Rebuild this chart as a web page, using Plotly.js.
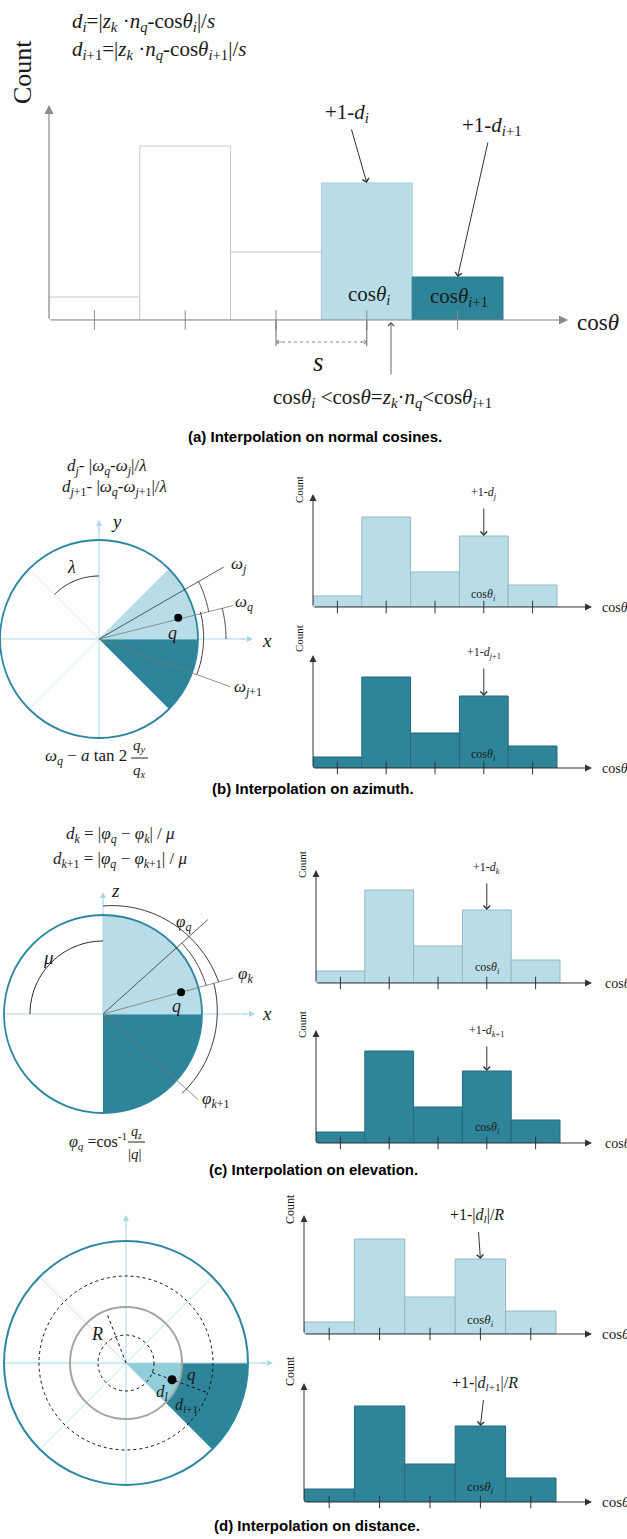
<!DOCTYPE html>
<html>
<head>
<meta charset="utf-8">
<script src="https://cdn.plot.ly/plotly-3.0.1.min.js"></script>
<style>html,body{margin:0;padding:0;background:#fff;}#plot{width:627px;height:1539px;}</style>
</head>
<body>
<div id="plot"></div>
<script>
// ---------------- DATA ----------------
const binCenters = [0.5, 1.5, 2.5, 3.5, 4.5];          // bin positions (in bin widths)
const countsA    = [23, 174, 68, 137, 43];             // (a) main histogram
const countsBTop = [11, 90, 35, 71, 22];               // (b) upper histogram
const countsBBot = [11, 91, 35, 72, 22];               // (b) lower histogram
const countsCTop = [12, 93, 37, 73, 23];               // (c) upper histogram
const countsCBot = [11, 92, 36, 72, 23];               // (c) lower histogram
const countsDTop = [12, 95, 37, 75, 23];               // (d) upper histogram
const countsDBot = [13, 96, 38, 76, 24];               // (d) lower histogram
const targetBinA = 3;      // index of bin receiving +1-d_i
const targetBinA2 = 4;     // index of bin receiving +1-d_{i+1}
const targetBin = 3;       // index of bin receiving the vote in small histograms
// angular data of the diagrams (degrees)
const azSectorLight = [0, 45], azSectorDark = [-45, 0];
const azDividers = [45, 135, 225, 315];
const azOmegaJ = 30, azOmegaQ = 14, azOmegaJ1 = -20;
const elSectorLight = [0, 90], elSectorDark = [-90, 0];
const elPhiQ = 42, elPhiK = 15.5, elPhiK1 = -42;
const distDividers = [45, 135, 225, 315];
const distRadii = [28, 56, 87, 122];   // inner dotted, R circle, outer dotted, outer
const distSector = [-45, 0], distQAngle = -20, distRAngle = 111;

// ---------------- LAYOUT HELPERS ----------------
const W = 627, H = 1539;
const serif = 'Liberation Serif, "Times New Roman", serif';
const sans = 'Liberation Sans, Arial, Helvetica, sans-serif';
const LIGHT = '#b9dde8', DARK = '#2e8499', TEAL = '#2d87a0', AXL = '#a9d8e6', TXT = '#1a1a1a';

const shapes = [], annotations = [], traces = [];
const layout = {
  width: W, height: H, margin: {l: 0, r: 0, t: 0, b: 0},
  paper_bgcolor: '#fff', plot_bgcolor: 'rgba(0,0,0,0)', showlegend: false,
  xaxis: {domain: [0, 1], range: [0, W], visible: false, fixedrange: true},
  yaxis: {domain: [0, 1], range: [H, 0], visible: false, fixedrange: true},
  shapes, annotations
};

function txt(x, y, text, size, opts) {
  annotations.push(Object.assign({xref: 'x', yref: 'y', x, y, text, showarrow: false,
    font: {family: serif, size, color: TXT}, xanchor: 'center', yanchor: 'middle'}, opts || {}));
}
function arrowPx(x, y, ax, ay, color, head, size, width) {
  annotations.push({xref: 'x', yref: 'y', axref: 'x', ayref: 'y', x, y, ax, ay, text: '',
    showarrow: true, arrowhead: head, arrowsize: size, arrowwidth: width, arrowcolor: color});
}
function line(x0, y0, x1, y1, color, width, dash) {
  shapes.push({type: 'line', xref: 'x', yref: 'y', x0, y0, x1, y1,
    line: {color, width, dash: dash || 'solid'}});
}
function pol(cx, cy, r, a) {
  const t = a * Math.PI / 180;
  return [cx + r * Math.cos(t), cy - r * Math.sin(t)];
}
function arcPts(cx, cy, r0, r1, a0, a1) {
  const n = 48, pts = [];
  for (let i = 0; i <= n; i++) {
    const f = i / n;
    pts.push(pol(cx, cy, r0 + (r1 - r0) * f, a0 + (a1 - a0) * f));
  }
  return pts;
}
function arc(cx, cy, r0, r1, a0, a1, color, width, dash) {
  const p = arcPts(cx, cy, r0, r1, a0, a1);
  shapes.push({type: 'path', xref: 'x', yref: 'y',
    path: 'M' + p.map(q => q[0].toFixed(2) + ',' + q[1].toFixed(2)).join('L'),
    line: {color, width, dash: dash || 'solid'}});
}
function sector(cx, cy, rin, rout, a0, a1, fill) {
  let p = arcPts(cx, cy, rout, rout, a0, a1);
  if (rin > 0) p = p.concat(arcPts(cx, cy, rin, rin, a1, a0)); else p.push([cx, cy]);
  shapes.push({type: 'path', xref: 'x', yref: 'y',
    path: 'M' + p.map(q => q[0].toFixed(2) + ',' + q[1].toFixed(2)).join('L') + 'Z',
    fillcolor: fill, line: {width: 0}});
}
function ray(cx, cy, a, r0, r1, color, width, dash) {
  const p0 = pol(cx, cy, r0, a), p1 = pol(cx, cy, r1, a);
  line(p0[0], p0[1], p1[0], p1[1], color, width, dash);
}
function circle(cx, cy, r, color, width, dash) {
  shapes.push({type: 'circle', xref: 'x', yref: 'y', x0: cx - r, x1: cx + r, y0: cy - r, y1: cy + r,
    line: {color, width, dash: dash || 'solid'}});
}

// ---------------- HISTOGRAMS ----------------
let axId = 2;
function histogram(cfg) {
  const id = axId++;
  const xa = 'x' + id, ya = 'y' + id;
  const xmax = (cfg.xEnd - cfg.x0) / cfg.bw, ymax = cfg.base - cfg.top;
  layout['xaxis' + id] = {domain: [cfg.x0 / W, cfg.xEnd / W], range: [0, xmax], visible: false, anchor: ya, fixedrange: true};
  layout['yaxis' + id] = {domain: [(H - cfg.base) / H, (H - cfg.top) / H], range: [0, ymax], visible: false, anchor: xa, fixedrange: true};
  traces.push({type: 'bar', x: binCenters, y: cfg.counts, width: 1, xaxis: xa, yaxis: ya,
    marker: {color: cfg.fills, line: {color: cfg.lines, width: 1}}, hoverinfo: 'skip'});
  traces.push({type: 'scatter', mode: 'markers', x: binCenters, y: binCenters.map(() => 0), xaxis: xa, yaxis: ya,
    cliponaxis: false, hoverinfo: 'skip',
    marker: {symbol: 'line-ns', size: cfg.tick, line: {width: 1, color: cfg.axisColor}}});
  // axes with arrowheads
  annotations.push({xref: xa, yref: ya, axref: xa, ayref: ya, x: xmax, y: 0, ax: 0, ay: 0, text: '',
    showarrow: true, arrowhead: 2, arrowsize: cfg.headSize, arrowwidth: cfg.axisWidth, arrowcolor: cfg.axisColor});
  annotations.push({xref: xa, yref: ya, axref: xa, ayref: ya, x: 0, y: ymax, ax: 0, ay: 0, text: '',
    showarrow: true, arrowhead: 2, arrowsize: cfg.headSize, arrowwidth: cfg.axisWidth, arrowcolor: cfg.axisColor});
  return {xa, ya, cfg};
}
function vote(h, idx, text, size, ax, ay, sstand) {
  annotations.push({xref: h.xa, yref: h.ya, x: binCenters[idx], y: h.cfg.counts[idx], ax, ay,
    text, showarrow: true, arrowhead: 4, arrowsize: 1.3, arrowwidth: 1, arrowcolor: '#333',
    startstandoff: sstand || 0, font: {family: serif, size, color: TXT}});
}

const lightFill = binCenters.map(() => LIGHT), lightLine = binCenters.map(() => '#93b9c4');
const darkFill = binCenters.map(() => DARK), darkLine = binCenters.map(() => '#236b7d');
const smallStyle = {axisColor: '#333', axisWidth: 1, headSize: 1.4, tick: 9};

// (a)
const hA = histogram(Object.assign({x0: 49, xEnd: 568, bw: 90.8, base: 320, top: 105, counts: countsA,
  fills: ['#ffffff', '#ffffff', '#ffffff', LIGHT, DARK],
  lines: ['#c9c9c9', '#c9c9c9', '#c9c9c9', '#a9cdd7', '#2a7a8d']},
  {axisColor: '#8a8a8a', axisWidth: 1.2, headSize: 1.5, tick: 14}));
// (b)
const hBT = histogram(Object.assign({x0: 313, xEnd: 592, bw: 48.8, base: 607, top: 494, counts: countsBTop, fills: lightFill, lines: lightLine}, smallStyle));
const hBB = histogram(Object.assign({x0: 313, xEnd: 592, bw: 48.8, base: 768, top: 655, counts: countsBBot, fills: darkFill, lines: darkLine}, smallStyle));
// (c)
const hCT = histogram(Object.assign({x0: 316, xEnd: 592, bw: 48.8, base: 983, top: 870, counts: countsCTop, fills: lightFill, lines: lightLine}, smallStyle));
const hCB = histogram(Object.assign({x0: 316, xEnd: 592, bw: 48.8, base: 1143, top: 1030, counts: countsCBot, fills: darkFill, lines: darkLine}, smallStyle));
// (d)
const hDT = histogram(Object.assign({x0: 304, xEnd: 592, bw: 50.4, base: 1334, top: 1215, counts: countsDTop, fills: lightFill, lines: lightLine}, smallStyle));
const hDB = histogram(Object.assign({x0: 304, xEnd: 592, bw: 50.4, base: 1502, top: 1383, counts: countsDBot, fills: darkFill, lines: darkLine}, smallStyle));

// ---------------- PANEL (a) TEXT ----------------
txt(70, 22, '<i>d<sub>i</sub></i>=|<i>z<sub>k</sub></i> ·<i>n<sub>q</sub></i>-cos<i>θ<sub>i</sub></i>|/<i>s</i>', 21, {xanchor: 'left'});
txt(70, 50, '<i>d<sub>i</sub></i><sub>+1</sub>=|<i>z<sub>k</sub></i> ·<i>n<sub>q</sub></i>-cos<i>θ<sub>i</sub></i><sub>+1</sub>|/<i>s</i>', 21, {xanchor: 'left'});
txt(22, 72, 'Count', 26, {textangle: -90});
txt(575, 322, 'cos<i>θ</i>', 23, {xanchor: 'left'});
vote(hA, targetBinA, '+1-<i>d<sub>i</sub></i>', 21, -20, -70, 2);
vote(hA, targetBinA2, '+1-<i>d<sub>i</sub></i><sub>+1</sub>', 21, 34, -151, 2);
txt(369, 295, 'cos<i>θ<sub>i</sub></i>', 21);
txt(459, 297, 'cos<i>θ<sub>i</sub></i><sub>+1</sub>', 21);
// bin spacing s
shapes.push({type: 'line', xref: hA.xa, yref: 'y', x0: binCenters[2], x1: binCenters[2], y0: 320, y1: 346, line: {color: '#666', width: 1}});
shapes.push({type: 'line', xref: hA.xa, yref: 'y', x0: binCenters[3], x1: binCenters[3], y0: 320, y1: 346, line: {color: '#666', width: 1}});
shapes.push({type: 'line', xref: hA.xa, yref: 'y', x0: binCenters[2], x1: binCenters[3], y0: 342, y1: 342, line: {color: '#888', width: 1, dash: 'dot'}});
annotations.push({xref: hA.xa, yref: 'y', axref: hA.xa, ayref: 'y', x: binCenters[2], y: 342, ax: binCenters[2] + 0.08, ay: 342, text: '', showarrow: true, arrowhead: 4, arrowsize: 1, arrowwidth: 0.8, arrowcolor: '#888'});
annotations.push({xref: hA.xa, yref: 'y', axref: hA.xa, ayref: 'y', x: binCenters[3], y: 342, ax: binCenters[3] - 0.08, ay: 342, text: '', showarrow: true, arrowhead: 4, arrowsize: 1, arrowwidth: 0.8, arrowcolor: '#888'});
txt(318, 362, '<i>s</i>', 27);
arrowPx(391, 322, 391, 376, '#555', 4, 1.3, 0.9);
txt(382, 398, 'cos<i>θ<sub>i</sub></i> &lt;cos<i>θ</i>=<i>z<sub>k</sub></i>·<i>n<sub>q</sub></i>&lt;cos<i>θ<sub>i</sub></i><sub>+1</sub>', 21);
txt(315, 436, '<b>(a) Interpolation on normal cosines.</b>', 15, {font: {family: sans, size: 15, color: '#000'}});

// ---------------- PANEL (b) ----------------
{
  const cx = 99, cy = 639, R = 99;
  azDividers.forEach(a => ray(cx, cy, a, 0, R, '#d2eaf1', 1));
  sector(cx, cy, 0, R, azSectorLight[0], azSectorLight[1], LIGHT);
  sector(cx, cy, 0, R, azSectorDark[0], azSectorDark[1], DARK);
  line(0, cy, 245, cy, AXL, 1); arrowPx(253, cy, 240, cy, AXL, 2, 1.2, 1);
  line(cx, cy + R, cx, 528, AXL, 1); arrowPx(cx, 520, cx, 533, AXL, 2, 1.2, 1);
  circle(cx, cy, R, TEAL, 1.8);
  arc(cx, cy, 63, 63, 90, 135, '#222', 1);
  ray(cx, cy, azOmegaJ, 0, 144, '#333', 0.8);
  ray(cx, cy, azOmegaQ, 0, 138, '#777', 0.8);
  ray(cx, cy, azOmegaJ1, 0, 140, '#777', 0.8);
  arc(cx, cy, 113, 115, azOmegaQ, azOmegaJ, '#222', 0.9);
  arc(cx, cy, 127, 127, 0, azOmegaQ, '#222', 0.9);
  arc(cx, cy, 104, 105, azOmegaJ1, azOmegaQ + 1, '#222', 0.9);
  const q = pol(cx, cy, 82, 15);
  shapes.push({type: 'circle', xref: 'x', yref: 'y', x0: q[0] - 4, x1: q[0] + 4, y0: q[1] - 4, y1: q[1] + 4, fillcolor: '#000', line: {width: 0}});
  txt(107, 467, '<i>d<sub>j</sub></i>- |<i>ω<sub>q</sub></i>-<i>ω<sub>j</sub></i>|/<i>λ</i>', 17);
  txt(114, 488, '<i>d<sub>j</sub></i><sub>+1</sub>- |<i>ω<sub>q</sub></i>-<i>ω<sub>j</sub></i><sub>+1</sub>|/<i>λ</i>', 17);
  txt(116, 521, '<i>y</i>', 19); txt(267, 640, '<i>x</i>', 19);
  txt(71, 567, '<i>λ</i>', 18);
  txt(229, 565, '<i>ω<sub>j</sub></i>', 17, {xanchor: 'left'});
  txt(233, 603, '<i>ω<sub>q</sub></i>', 17, {xanchor: 'left'});
  txt(232, 688, '<i>ω<sub>j</sub></i><sub>+1</sub>', 17, {xanchor: 'left'});
  txt(172, 633, '<i>q</i>', 18);
  txt(129, 757, '<i>ω<sub>q</sub></i> − <i>a</i> tan 2', 17, {xanchor: 'right'});
  txt(139, 746, '<i>q<sub>y</sub></i>', 15); txt(139, 771, '<i>q<sub>x</sub></i>', 15);
  line(131, 758, 148, 758, '#222', 1);
  txt(299, 490, 'Count', 11, {textangle: -90});
  txt(299, 639, 'Count', 11, {textangle: -90});
  txt(600, 607, 'cos<i>θ</i>', 14, {xanchor: 'left'});
  txt(600, 768, 'cos<i>θ</i>', 14, {xanchor: 'left'});
  vote(hBT, targetBin, '+1-<i>d<sub>j</sub></i>', 12, 0, -43, 6);
  vote(hBB, targetBin, '+1-<i>d<sub>j</sub></i><sub>+1</sub>', 12, 0, -43, 6);
  txt(483, 595, 'cos<i>θ<sub>i</sub></i>', 12);
  txt(483, 755, 'cos<i>θ<sub>i</sub></i>', 12);
  txt(313, 788, '<b>(b) Interpolation on azimuth.</b>', 15, {font: {family: sans, size: 15, color: '#000'}});
}

// ---------------- PANEL (c) ----------------
{
  const cx = 103, cy = 1014, R = 99;
  sector(cx, cy, 0, R, elSectorLight[0], elSectorLight[1], LIGHT);
  sector(cx, cy, 0, R, elSectorDark[0], elSectorDark[1], DARK);
  line(3, cy, 247, cy, AXL, 1); arrowPx(255, cy, 242, cy, AXL, 2, 1.2, 1);
  line(cx, cy, cx, 900, AXL, 1); arrowPx(cx, 892, cx, 905, AXL, 2, 1.2, 1);
  circle(cx, cy, R, TEAL, 1.8);
  arc(cx, cy, 73, 73, 90, 180, '#222', 1);
  ray(cx, cy, elPhiQ, 0, 141, '#333', 0.8);
  ray(cx, cy, elPhiK, 0, 135, '#777', 0.8);
  ray(cx, cy, elPhiK1, 0, 128, '#777', 0.8);
  arc(cx, cy, 108, 120, 90, elPhiK, '#222', 0.9);
  arc(cx, cy, 106, 107, elPhiQ, elPhiK, '#222', 0.9);
  arc(cx, cy, 115, 112, elPhiK, -45, '#222', 0.9);
  const q = pol(cx, cy, 81, elPhiK);
  shapes.push({type: 'circle', xref: 'x', yref: 'y', x0: q[0] - 4, x1: q[0] + 4, y0: q[1] - 4, y1: q[1] + 4, fillcolor: '#000', line: {width: 0}});
  txt(120, 835, '<i>d<sub>k</sub></i> = |<i>φ<sub>q</sub></i> − <i>φ<sub>k</sub></i>| / <i>μ</i>', 17);
  txt(120, 860, '<i>d<sub>k</sub></i><sub>+1</sub> = |<i>φ<sub>q</sub></i> − <i>φ<sub>k</sub></i><sub>+1</sub>| / <i>μ</i>', 17);
  txt(115, 890, '<i>z</i>', 19); txt(267, 1013, '<i>x</i>', 19);
  txt(48, 957, '<i>μ</i>', 19);
  txt(183, 923, '<i>φ<sub>q</sub></i>', 17);
  txt(236, 975, '<i>φ<sub>k</sub></i>', 17, {xanchor: 'left'});
  txt(200, 1100, '<i>φ<sub>k</sub></i><sub>+1</sub>', 17, {xanchor: 'left'});
  txt(176, 1006, '<i>q</i>', 18);
  txt(129, 1141, '<i>φ<sub>q</sub></i> =cos<sup>-1</sup>', 16, {xanchor: 'right'});
  txt(136, 1132, '<i>q<sub>z</sub></i>', 14); txt(135, 1154, '|<i>q</i>|', 15);
  line(128, 1142, 145, 1142, '#222', 1);
  txt(302, 865, 'Count', 11, {textangle: -90});
  txt(302, 1025, 'Count', 11, {textangle: -90});
  txt(603, 983, 'cos<i>θ</i>', 14, {xanchor: 'left'});
  txt(603, 1143, 'cos<i>θ</i>', 14, {xanchor: 'left'});
  vote(hCT, targetBin, '+1-<i>d<sub>k</sub></i>', 12, 0, -42, 6);
  vote(hCB, targetBin, '+1-<i>d<sub>k</sub></i><sub>+1</sub>', 12, 0, -40, 6);
  txt(487, 968, 'cos<i>θ<sub>i</sub></i>', 12);
  txt(487, 1128, 'cos<i>θ<sub>i</sub></i>', 12);
  txt(313, 1169, '<b>(c) Interpolation on elevation.</b>', 15, {font: {family: sans, size: 15, color: '#000'}});
}

// ---------------- PANEL (d) ----------------
{
  const cx = 126, cy = 1363;
  const [r1, r2, r3, R] = distRadii;
  distDividers.forEach(a => ray(cx, cy, a, 0, R, '#c4e5ee', 1));
  sector(cx, cy, 0, r2, distSector[0], distSector[1], '#92cdda');
  sector(cx, cy, r2, R, distSector[0], distSector[1], DARK);
  line(4, cy, 265, cy, AXL, 1); arrowPx(273, cy, 260, cy, AXL, 2, 1.2, 1);
  line(cx, cy + R, cx, 1223, AXL, 1); arrowPx(cx, 1215, cx, 1228, AXL, 2, 1.2, 1);
  circle(cx, cy, r3, '#111', 1, 'dot');
  circle(cx, cy, r1, '#111', 1, 'dot');
  circle(cx, cy, r2, '#a5a5a5', 2);
  circle(cx, cy, R, TEAL, 2);
  ray(cx, cy, distRAngle, 0, 53, '#111', 1, 'dot');
  ray(cx, cy, distQAngle, r1, r3, '#111', 1, 'dot');
  const q = pol(cx, cy, 49, distQAngle);
  shapes.push({type: 'circle', xref: 'x', yref: 'y', x0: q[0] - 4.5, x1: q[0] + 4.5, y0: q[1] - 4.5, y1: q[1] + 4.5, fillcolor: '#000', line: {width: 0}});
  txt(97, 1334, '<i>R</i>', 18);
  txt(191, 1374, '<i>q</i>', 17);
  txt(162, 1393, '<i>d<sub>l</sub></i>', 17);
  txt(186, 1405, '<i>d<sub>l</sub></i><sub>+1</sub>', 16);
  txt(290, 1209, 'Count', 12, {textangle: -90});
  txt(290, 1371, 'Count', 12, {textangle: -90});
  txt(600, 1334, 'cos<i>θ</i>', 15, {xanchor: 'left'});
  txt(600, 1502, 'cos<i>θ</i>', 15, {xanchor: 'left'});
  vote(hDT, targetBin, '+1-|<i>d<sub>l</sub></i>|/<i>R</i>', 16, -3, -44, 6);
  vote(hDB, targetBin, '+1-|<i>d<sub>l</sub></i><sub>+1</sub>|/<i>R</i>', 16, 5, -43, 6);
  txt(480, 1320, 'cos<i>θ<sub>i</sub></i>', 13);
  txt(480, 1487, 'cos<i>θ<sub>i</sub></i>', 13);
  txt(317, 1525, '<b>(d) Interpolation on distance.</b>', 15, {font: {family: sans, size: 15, color: '#000'}});
}

Plotly.newPlot('plot', traces, layout, {staticPlot: true, displayModeBar: false});
</script>
</body>
</html>
